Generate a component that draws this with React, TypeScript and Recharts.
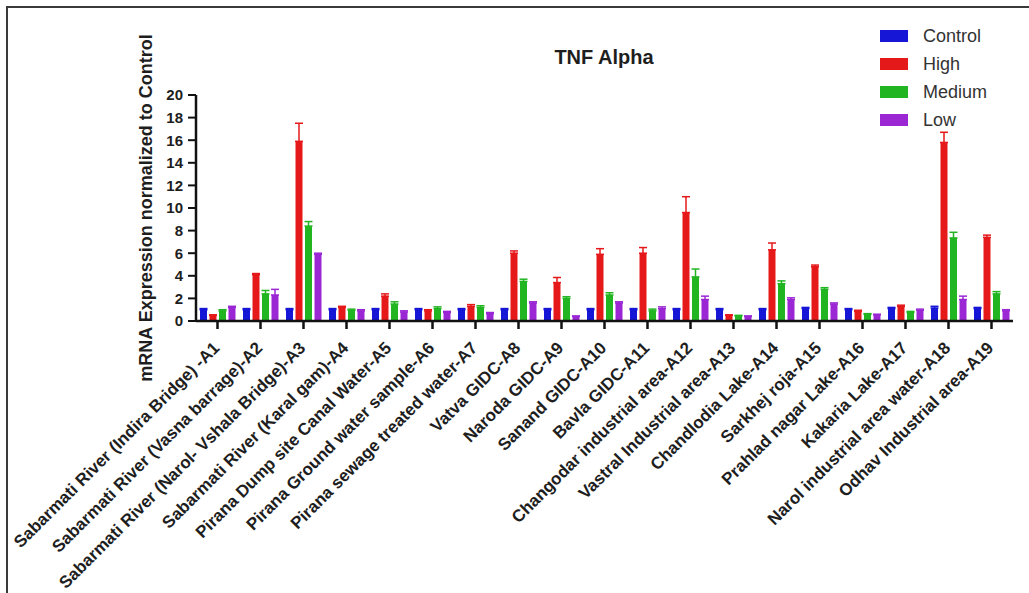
import React from "react";
import { Bar, BarChart, ErrorBar, Legend, XAxis, YAxis } from "recharts";

const categories = [
  "Sabarmati River (Indira Bridge) -A1",
  "Sabarmati River (Vasna barrage)-A2",
  "Sabarmati River (Narol- Vshala Bridge)-A3",
  "Sabarmati River (Karal gam)-A4",
  "Pirana Dump site Canal Water-A5",
  "Pirana Ground water sample-A6",
  "Pirana sewage treated water-A7",
  "Vatva GIDC-A8",
  "Naroda GIDC-A9",
  "Sanand GIDC-A10",
  "Bavla GIDC-A11",
  "Changodar industrial area-A12",
  "Vastral Industrial area-A13",
  "Chandlodia Lake-A14",
  "Sarkhej roja-A15",
  "Prahlad nagar Lake-A16",
  "Kakaria Lake-A17",
  "Narol industrial area water-A18",
  "Odhav Industrial area-A19",
];

const control = [1.0, 1.0, 1.0, 1.0, 1.0, 1.0, 1.0, 1.0, 1.0, 1.0, 1.0, 1.0, 1.0, 1.0, 1.1, 1.0, 1.1, 1.15, 1.1];
const high = [0.5, 4.1, 15.9, 1.2, 2.2, 0.9, 1.3, 6.0, 3.4, 5.9, 6.0, 9.6, 0.5, 6.3, 4.8, 0.85, 1.3, 15.8, 7.4];
const medium = [0.9, 2.4, 8.4, 0.95, 1.5, 1.1, 1.2, 3.5, 2.0, 2.3, 0.9, 3.9, 0.45, 3.3, 2.8, 0.6, 0.75, 7.35, 2.4];
const low = [1.2, 2.3, 5.9, 0.9, 0.8, 0.75, 0.65, 1.6, 0.4, 1.6, 1.1, 1.9, 0.4, 1.9, 1.5, 0.55, 0.95, 1.9, 0.9];

const controlErr = [0.1, 0.1, 0.1, 0.1, 0.1, 0.1, 0.1, 0.1, 0.1, 0.1, 0.1, 0.1, 0.1, 0.1, 0.1, 0.1, 0.1, 0.15, 0.1];
const highErr = [0.05, 0.1, 1.6, 0.1, 0.2, 0.1, 0.15, 0.2, 0.45, 0.5, 0.5, 1.4, 0.05, 0.6, 0.15, 0.1, 0.1, 0.9, 0.2];
const mediumErr = [0.1, 0.3, 0.4, 0.1, 0.2, 0.15, 0.15, 0.2, 0.15, 0.2, 0.15, 0.7, 0.05, 0.25, 0.15, 0.05, 0.1, 0.5, 0.2];
const lowErr = [0.1, 0.5, 0.1, 0.1, 0.1, 0.1, 0.1, 0.1, 0.05, 0.1, 0.15, 0.3, 0.05, 0.15, 0.1, 0.05, 0.1, 0.3, 0.1];

const yTicks = [0, 2, 4, 6, 8, 10, 12, 14, 16, 18, 20];

const series = [
  { key: "control", name: "Control", color: "#1616d6" },
  { key: "high", name: "High", color: "#e5181a" },
  { key: "medium", name: "Medium", color: "#22b522" },
  { key: "low", name: "Low", color: "#9a26d4" },
];

const data = categories.map((name, i) => ({
  name,
  control: control[i],
  high: high[i],
  medium: medium[i],
  low: low[i],
  controlErr: [0, controlErr[i]],
  highErr: [0, highErr[i]],
  mediumErr: [0, mediumErr[i]],
  lowErr: [0, lowErr[i]],
}));

const FONT = "'Liberation Sans', Arial, sans-serif";

function XTick({ x, y, payload }: any) {
  const ax = x + 3;
  const ay = y + 18;
  return (
    <text
      x={ax}
      y={ay}
      transform={`rotate(-45 ${ax} ${ay})`}
      textAnchor="end"
      fontSize={17}
      fontWeight="bold"
      fontFamily={FONT}
      fill="#1e1e1e"
    >
      {payload.value}
    </text>
  );
}

function LegendBox() {
  return (
    <div style={{ fontFamily: FONT, fontSize: 18, color: "#333" }}>
      {series.map((s) => (
        <div key={s.key} style={{ display: "flex", alignItems: "center", height: 28 }}>
          <span style={{ width: 28, height: 12, background: s.color, marginRight: 15 }} />
          <span>{s.name}</span>
        </div>
      ))}
    </div>
  );
}

export default function App() {
  return (
    <div
      style={{
        position: "absolute",
        left: 0,
        top: 0,
        width: 1029,
        height: 593,
        overflow: "hidden",
        background: "#fff",
      }}
    >
      <div
        style={{
          position: "absolute",
          left: 6,
          top: 6,
          width: 1100,
          height: 700,
          borderTop: "2px solid #3a3a3a",
          borderLeft: "2px solid #3a3a3a",
        }}
      />
      <div
        style={{
          position: "absolute",
          left: 504,
          top: 46,
          width: 200,
          textAlign: "center",
          fontFamily: FONT,
          fontWeight: "bold",
          fontSize: 20,
          color: "#1e1e1e",
        }}
      >
        TNF Alpha
      </div>
      <BarChart
        width={1029}
        height={593}
        data={data}
        margin={{ top: 95, right: 16, left: 136, bottom: 22 }}
        barSize={7}
        barGap={2.5}
        style={{ position: "absolute", left: 0, top: 0 }}
      >
        <XAxis
          dataKey="name"
          interval={0}
          height={250}
          tick={<XTick />}
          tickSize={8}
          axisLine={{ stroke: "#111", strokeWidth: 2.5 }}
          tickLine={{ stroke: "#111", strokeWidth: 2.5 }}
        />
        <YAxis
          domain={[0, 20]}
          ticks={yTicks}
          interval={0}
          width={60}
          tickSize={8}
          tickMargin={5}
          axisLine={{ stroke: "#111", strokeWidth: 2.5 }}
          tickLine={{ stroke: "#111", strokeWidth: 2 }}
          tick={{ fill: "#1e1e1e", fontSize: 15, fontWeight: "bold", fontFamily: FONT }}
          label={{
            content: () => (
              <text
                x={152}
                y={208}
                transform="rotate(-90 152 208)"
                textAnchor="middle"
                fontSize={18}
                fontWeight="bold"
                fontFamily={FONT}
                fill="#1e1e1e"
              >
                mRNA Expression normalized to Control
              </text>
            ),
          }}
        />
        <Legend
          layout="vertical"
          align="center"
          verticalAlign="middle"
          content={<LegendBox />}
          wrapperStyle={{ position: "absolute", left: 880, top: 22, width: 140 }}
        />
        {series.map((s) => (
          <Bar key={s.key} dataKey={s.key} name={s.name} fill={s.color} isAnimationActive={false}>
            <ErrorBar
              dataKey={`${s.key}Err`}
              direction="y"
              width={4}
              stroke={s.color}
              strokeWidth={1.5}
              isAnimationActive={false}
            />
          </Bar>
        ))}
      </BarChart>
    </div>
  );
}
